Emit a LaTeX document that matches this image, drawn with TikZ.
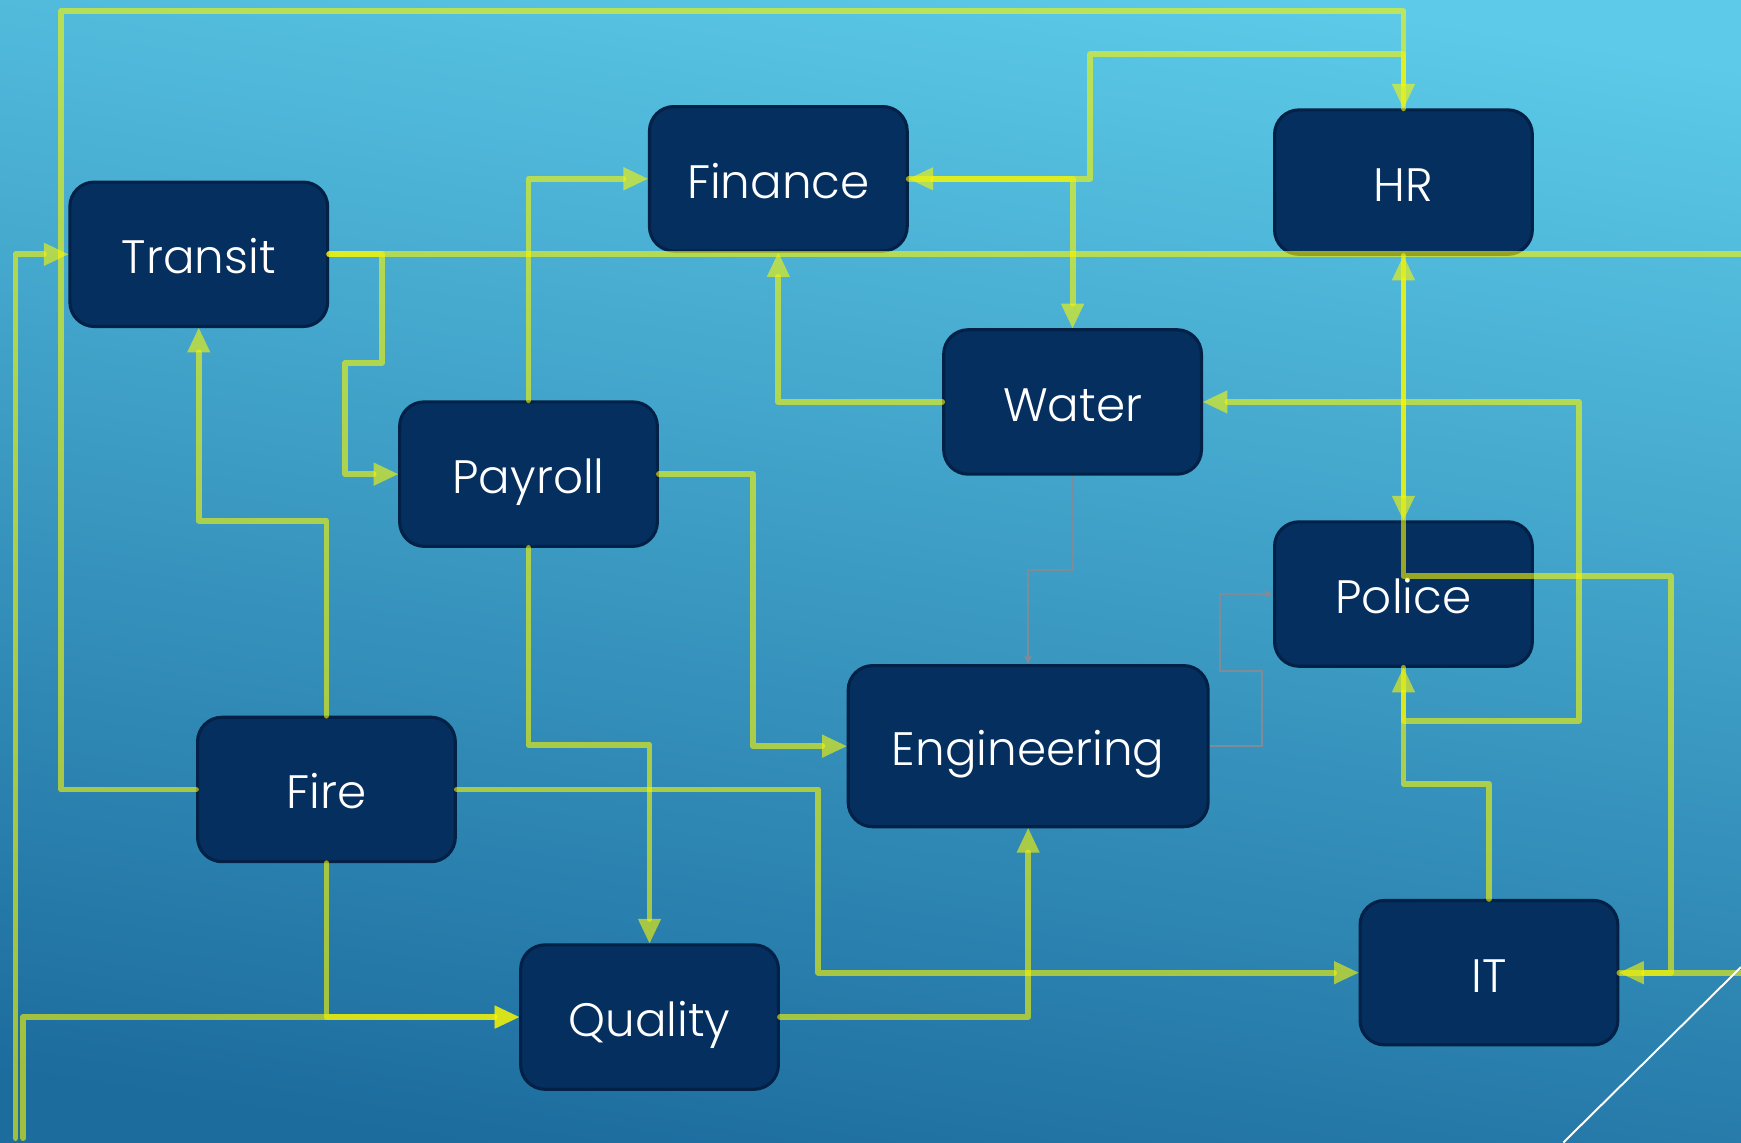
\documentclass[tikz,border=0pt]{standalone}
\usepackage{fontspec}
\IfFontExistsTF{Poppins Light}{\setmainfont{Poppins Light}}{\setmainfont{Poppins}}
\usetikzlibrary{arrows.meta}

\definecolor{bgtop}{RGB}{92,202,232}
\definecolor{bgbot}{RGB}{28,108,158}
\definecolor{boxfill}{RGB}{5,47,95}
\definecolor{boxedge}{RGB}{3,33,70}
\definecolor{linkc}{RGB}{250,247,0}
\definecolor{thinc}{RGB}{125,140,152}

\tikzset{
  dept/.style={rounded corners=0.22cm, fill=boxfill, draw=boxedge, line width=0.8pt,
    minimum width=2.32cm, minimum height=1.30cm, inner sep=0pt,
    text height=10pt, text depth=0pt,
    text=white, font=\fontsize{12}{14}\selectfont},
  link/.style={draw=linkc, opacity=0.6, line width=1.5pt, line cap=round, line join=round},
  arr/.style={-{Triangle[length=0.22cm,width=0.21cm,line width=0pt]}},
  faint/.style={draw=thinc, line width=0.5pt, -{Triangle[length=0.07cm,width=0.07cm]}}
}

\begin{document}
\begin{tikzpicture}[x=0.01cm,y=-0.01cm]
  \useasboundingbox (0,0) rectangle (1568,1029);
  \clip (0,0) rectangle (1568,1029);
  \shade[top color=bgtop, bottom color=bgbot, shading angle=-9] (-20,-20) rectangle (1588,1049);

  % departments
  \node[dept] (transit) at (179,229) {Transit};
  \node[dept] (finance) at (701,161) {Finance};
  \node[dept] (hr)      at (1264,164) {HR};
  \node[dept] (water)   at (966,362) {Water};
  \node[dept] (payroll) at (476,427) {Payroll};
  \node[dept] (police)  at (1264,535) {Police};
  \node[dept, minimum width=3.24cm, minimum height=1.45cm] (eng) at (926,672) {Engineering};
  \node[dept] (fire)    at (294,711) {Fire};
  \node[dept] (quality) at (585,916) {Quality};
  \node[dept] (it)      at (1341,876) {IT};

  % loose ends running off the sheet
  \coordinate (offE)  at (1600,229);
  \coordinate (offIT) at (1600,876);
  \coordinate (offB1) at (21,1025);
  \coordinate (offB2) at (14,1025);

  % connectors
  \draw[link,arr] (transit.east) -- (344,229) -- (344,327) -- (311,327) |- (payroll.west);
  \draw[link] (transit.east) -- (offE);
  \draw[link,arr] (fire.north) -- (294,469) -| (transit.south);
  \draw[link,arr] (fire.west) -- (55,711) -- (55,10) -| (hr.north);
  \draw[link,arr] (payroll.north) |- (finance.west);
  \draw[link,arr] (payroll.east) -- (678,427) |- (eng.west);
  \draw[link,arr] (payroll.south) -- (476,671) -| (quality.north);
  \draw[link,arr] (water.west) -| (finance.south);
  \draw[link,arr] (hr.north) -- (1264,49) -- (982,49) |- (finance.east);
  \draw[link,arr] (finance.east) -| (water.north);
  \draw[link,arr] (hr.south) -- (police.north);
  \draw[link,arr] (it.east) -- (1505,876) -- (1505,519) -| (hr.south);
  \draw[link,arr] (offIT) -- (it.east);
  \draw[link,arr] (it.north) -- (1341,706) -| (police.south);
  \draw[link,arr] (police.south) |- (1422,649) |- (water.east);
  \draw[link,arr] (fire.east) -- (737,711) |- (it.west);
  \draw[link,arr] (fire.south) |- (quality.west);
  \draw[link,arr] (offB1) -- (21,916) -- (quality.west);
  \draw[link,arr] (offB2) |- (transit.west);
  \draw[link,arr] (quality.east) -| (eng.south);

  % thin grey links
  \draw[faint] (water.south) -- (966,513) -- (926,513) -- (eng.north);
  \draw[faint] (eng.east) -- (1137,672) -- (1137,604) -- (1099,604) |- (police.west);

  % corner accent
  \draw[white, line width=0.5pt] (1568,871) -- (1408,1029);
\end{tikzpicture}
\end{document}
